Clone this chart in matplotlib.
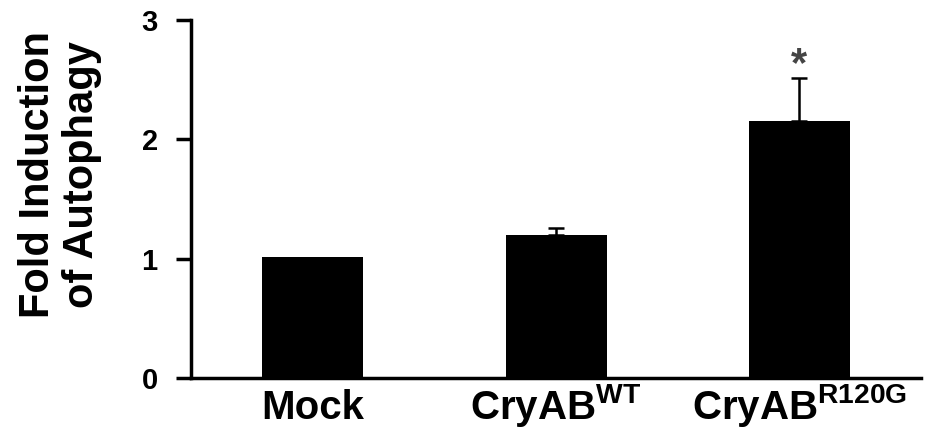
import numpy as np
import matplotlib
matplotlib.use("Agg")
import matplotlib.pyplot as plt
from matplotlib import transforms

# data
categories = ["Mock", r"CryAB$^{\mathrm{WT}}$", r"CryAB$^{\mathrm{R120G}}$"]
fold_induction = [1.01, 1.20, 2.15]
sem_upper = [0.0, 0.06, 0.36]
star_labels = ["", "", "*"]
star_height = [0, 0, 2.62]
y_ticks = [0, 1, 2, 3]

plt.rcParams['font.family'] = ['Liberation Sans', 'DejaVu Sans']
plt.rcParams['font.weight'] = 'bold'
plt.rcParams['mathtext.fontset'] = 'custom'
plt.rcParams['mathtext.rm'] = 'Liberation Sans:bold'
plt.rcParams['mathtext.it'] = 'Liberation Sans:bold'
plt.rcParams['mathtext.bf'] = 'Liberation Sans:bold'

fig = plt.figure(figsize=(9.37, 4.29), dpi=100)
ax = fig.add_axes([0.2038, 0.1189, 0.983 - 0.2038, 0.9534 - 0.1189])

x = np.arange(len(categories))
ax.bar(x, fold_induction, width=0.415, color="black", zorder=2)
# only the upper half of the error bar is drawn
yerr = np.array([np.zeros(len(sem_upper)), sem_upper])
has_err = np.array(sem_upper) > 0
ax.errorbar(x[has_err], np.array(fold_induction)[has_err], yerr=yerr[:, has_err],
            fmt="none", ecolor="black", elinewidth=1.8, capsize=6, capthick=1.8, zorder=1)

for xi, lab, h in zip(x, star_labels, star_height):
    if lab:
        ax.text(xi, h, lab, ha="center", va="center", fontsize=30,
                color="#454545", fontweight="bold")

ax.set_xlim(-0.5, 2.5)
ax.set_ylim(0, 3)
ax.set_yticks(y_ticks)
ax.set_yticklabels([str(t) for t in y_ticks], fontsize=21, fontweight="bold")
ax.set_xticks([])
ax.tick_params(axis="y", length=11, width=2.5, pad=13)

# category labels sit on a common baseline below the axis
trans = transforms.blended_transform_factory(ax.transData, ax.transAxes)
for xi, lab in zip(x, categories):
    ax.text(xi, -0.115, lab, transform=trans, ha="center", va="baseline",
            fontsize=29, fontweight="bold", clip_on=False)

for side in ["top", "right"]:
    ax.spines[side].set_visible(False)
for side in ["left", "bottom"]:
    ax.spines[side].set_linewidth(2.5)

fig.text(0.064, 0.594, "Fold Induction\nof Autophagy", rotation=90,
         ha="center", va="center", multialignment="center",
         fontsize=30, fontweight="bold", linespacing=1.15)

fig.savefig("out.png", dpi=100)
